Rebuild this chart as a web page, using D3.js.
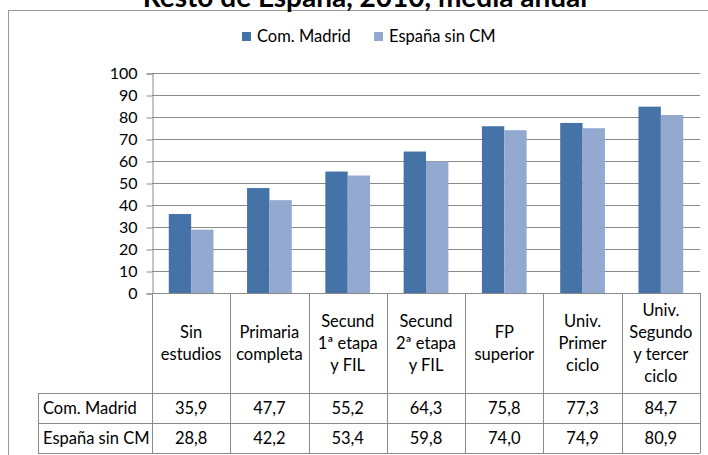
<!DOCTYPE html>
<html lang="es">
<head>
    <meta charset="UTF-8">
    <title>Com. Madrid / España sin CM</title>
    <script src="https://d3js.org/d3.v7.min.js"></script>
    <style>
        body { margin: 0; background: #fff; }
        svg text { font-family: Lato, "Open Sans", sans-serif; fill: #000; }
    </style>
</head>
<body>
<svg width="708" height="455"></svg>
<script>
    // Data
    const categories = [
        "Sin\nestudios",
        "Primaria\ncompleta",
        "Secund\n1ª etapa\ny FIL",
        "Secund\n2ª etapa\ny FIL",
        "FP\nsuperior",
        "Univ.\nPrimer\nciclo",
        "Univ.\nSegundo\ny tercer\nciclo"
    ];
    const series = ["Com. Madrid", "España sin CM"];
    const madrid = [35.9, 47.7, 55.2, 64.3, 75.8, 77.3, 84.7];
    const espana = [28.8, 42.2, 53.4, 59.8, 74.0, 74.9, 80.9];
    const yTicks = [0, 10, 20, 30, 40, 50, 60, 70, 80, 90, 100];
    const titleText = "Resto de España, 2010, media anual";

    const values = [madrid, espana];
    const colors = ["#4572a7", "#94a9d0"];
    const fmt = v => v.toFixed(1).replace(".", ",");

    const svg = d3.select("svg");
    const grid = "#8a8a8a";
    const fs = "16.5px";

    // plot area
    const plot = { left: 152, right: 700, top: 73, bottom: 293 };
    const headerBottom = 393, rowH = 30;

    // outer chart border
    svg.append("rect")
        .attr("x", 8.5).attr("y", 10.5)
        .attr("width", 760).attr("height", 500)
        .attr("fill", "none").attr("stroke", "#9a9a9a");

    // title (only the last line is visible, the rest lies above the page)
    svg.append("text")
        .attr("x", 365).attr("y", 7)
        .attr("text-anchor", "middle")
        .style("font-size", "28px").style("font-weight", "bold")
        .text(titleText);

    const x = d3.scaleBand().domain(d3.range(categories.length))
        .range([plot.left, plot.right]).paddingInner(0).paddingOuter(0);
    const x1 = d3.scaleBand().domain(d3.range(series.length))
        .range([0, x.bandwidth()]).paddingInner(0).paddingOuter(0.75);
    const y = d3.scaleLinear().domain([0, 100]).range([plot.bottom, plot.top]);

    // gridlines
    svg.append("g").selectAll("line")
        .data(yTicks.filter(t => t > 0))
        .join("line")
        .attr("x1", plot.left).attr("x2", plot.right)
        .attr("y1", d => Math.round(y(d)) + 0.5).attr("y2", d => Math.round(y(d)) + 0.5)
        .attr("stroke", grid);

    // y axis
    const yAxis = svg.append("g")
        .attr("transform", `translate(${plot.left + 0.5},0.5)`)
        .call(d3.axisLeft(y).tickValues(yTicks).tickSize(6).tickPadding(9));
    yAxis.select(".domain").attr("stroke", grid);
    yAxis.selectAll(".tick line").attr("stroke", grid);
    yAxis.selectAll(".tick text")
        .style("font-size", "16px")
        .style("font-family", "Lato, sans-serif");

    // bars
    series.forEach((s, si) => {
        svg.append("g").selectAll("rect")
            .data(values[si])
            .join("rect")
            .attr("x", (d, i) => x(i) + x1(si))
            .attr("y", d => y(d))
            .attr("width", x1.bandwidth())
            .attr("height", d => y(0) - y(d))
            .attr("fill", colors[si]);
    });

    // x axis baseline
    svg.append("line")
        .attr("x1", plot.left).attr("x2", plot.right)
        .attr("y1", plot.bottom + 0.5).attr("y2", plot.bottom + 0.5)
        .attr("stroke", grid);

    // data table
    const table = svg.append("g");
    const bottom = headerBottom + rowH * series.length;
    const colEdges = d3.range(categories.length + 1).map(i => i < categories.length ? x(i) : plot.right);

    table.selectAll(".vline")
        .data(colEdges)
        .join("line")
        .attr("class", "vline")
        .attr("x1", d => Math.round(d) + 0.5).attr("x2", d => Math.round(d) + 0.5)
        .attr("y1", plot.bottom).attr("y2", bottom)
        .attr("stroke", grid);

    const rowLeft = 38;
    [headerBottom, headerBottom + rowH, bottom].forEach(yy => {
        table.append("line")
            .attr("x1", rowLeft).attr("x2", plot.right)
            .attr("y1", yy + 0.5).attr("y2", yy + 0.5)
            .attr("stroke", grid);
    });
    table.append("line")
        .attr("x1", rowLeft + 0.5).attr("x2", rowLeft + 0.5)
        .attr("y1", headerBottom).attr("y2", bottom)
        .attr("stroke", grid);

    // category labels
    const lineH = 22;
    categories.forEach((c, i) => {
        const lines = c.split("\n");
        const cy = (plot.bottom + headerBottom) / 2;
        const t = table.append("text")
            .attr("text-anchor", "middle")
            .style("font-size", fs);
        lines.forEach((ln, k) => {
            t.append("tspan")
                .attr("x", x(i) + x.bandwidth() / 2)
                .attr("y", cy + (k - (lines.length - 1) / 2) * lineH + 6)
                .text(ln);
        });
    });

    // row labels and values
    series.forEach((s, si) => {
        const cy = headerBottom + rowH * si + rowH / 2 + 6;
        table.append("text")
            .attr("x", rowLeft + 5).attr("y", cy)
            .style("font-size", fs)
            .text(s);
        table.append("g").selectAll("text")
            .data(values[si])
            .join("text")
            .attr("x", (d, i) => x(i) + x.bandwidth() / 2)
            .attr("y", cy)
            .attr("text-anchor", "middle")
            .style("font-size", fs)
            .text(fmt);
    });

    // legend
    const legend = svg.append("g");
    const legendX = [242, 374];
    series.forEach((s, si) => {
        legend.append("rect")
            .attr("x", legendX[si]).attr("y", 32)
            .attr("width", 9).attr("height", 9)
            .attr("fill", colors[si]);
        legend.append("text")
            .attr("x", legendX[si] + 15).attr("y", 42)
            .style("font-size", fs)
            .text(s);
    });
</script>
</body>
</html>
